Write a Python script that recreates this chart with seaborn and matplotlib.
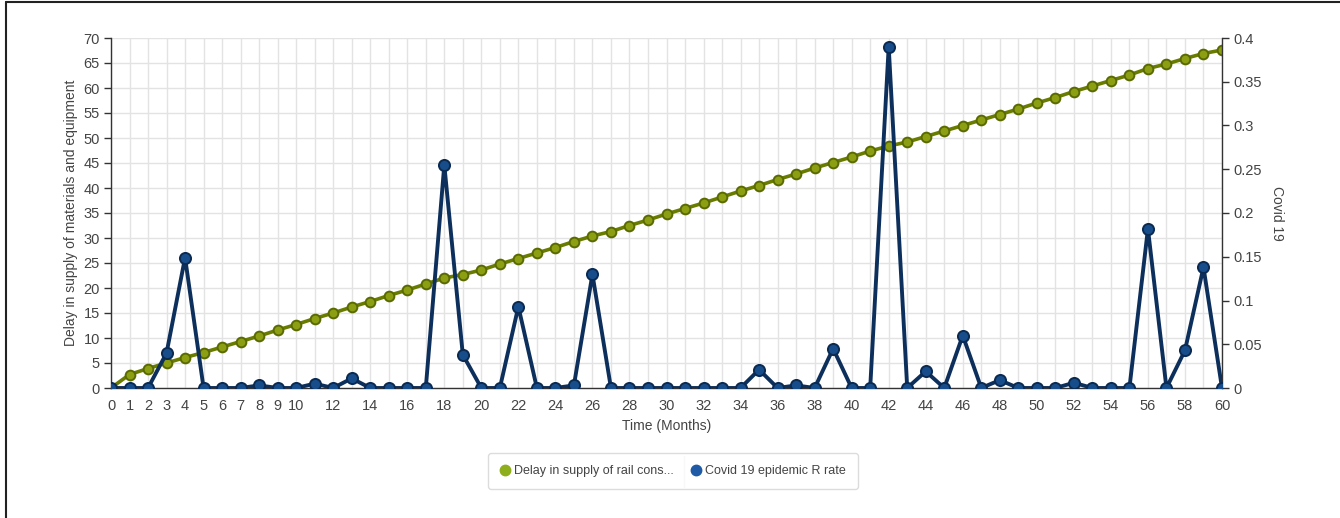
import numpy as np
import pandas as pd
import matplotlib
matplotlib.use("Agg")
import matplotlib.pyplot as plt
import seaborn as sns
from matplotlib.lines import Line2D

# ==========================================================
# Data
# ==========================================================
months = list(range(0, 61))

delay_supply = [
    0.0, 2.7, 3.9, 5.0, 6.1, 7.1, 8.2, 9.3, 10.4, 11.6,
    12.7, 13.9, 15.0, 16.2, 17.3, 18.5, 19.6, 20.8, 22.0, 22.7,
    23.6, 24.8, 25.9, 27.0, 28.1, 29.3, 30.4, 31.3, 32.5, 33.6,
    34.8, 35.9, 37.0, 38.2, 39.4, 40.5, 41.7, 42.8, 44.0, 45.1,
    46.2, 47.4, 48.4, 49.2, 50.3, 51.4, 52.5, 53.6, 54.7, 55.8,
    57.0, 58.1, 59.3, 60.4, 61.5, 62.6, 63.9, 64.8, 65.9, 66.9,
    67.6,
]

covid_r = [
    0.0, 0.0, 0.0, 0.040, 0.149, 0.0, 0.0, 0.0, 0.003, 0.0,
    0.0, 0.005, 0.0, 0.011, 0.0, 0.0, 0.0, 0.0, 0.255, 0.038,
    0.0, 0.0, 0.093, 0.0, 0.0, 0.003, 0.130, 0.0, 0.0, 0.0,
    0.0, 0.0, 0.0, 0.0, 0.0, 0.021, 0.0, 0.003, 0.0, 0.045,
    0.0, 0.0, 0.390, 0.0, 0.019, 0.0, 0.060, 0.0, 0.009, 0.0,
    0.0, 0.0, 0.006, 0.0, 0.0, 0.0, 0.182, 0.0, 0.043, 0.138,
    0.0,
]

legend_labels = ["Delay in supply of rail cons...", "Covid 19 epidemic R rate"]

df = pd.DataFrame({"month": months, "delay": delay_supply, "covid": covid_r})

# ==========================================================
# Style
# ==========================================================
sns.set_theme(style="white")
plt.rcParams["font.family"] = ["Liberation Sans", "DejaVu Sans"]

green_line = "#6a7c00"
green_face = "#8c9e12"
green_edge = "#5b6a00"
blue_line = "#0d2f5c"
blue_face = "#174d8a"
blue_edge = "#0b2a52"
text_col = "#444444"
spine_col = "#333333"
grid_col = "#e3e3e3"

fig = plt.figure(figsize=(13.4, 5.18), dpi=100)
ax1 = fig.add_axes([111 / 1340, 1 - 388 / 518, (1222 - 111) / 1340, 350 / 518])
ax2 = ax1.twinx()

# --- Green series (left axis) ---
sns.lineplot(data=df, x="month", y="delay", ax=ax1, color=green_line, linewidth=2.6,
             marker="o", markersize=7, markerfacecolor=green_face,
             markeredgecolor=green_edge, markeredgewidth=1.4, zorder=3)

# --- Blue series (right axis) ---
sns.lineplot(data=df, x="month", y="covid", ax=ax2, color=blue_line, linewidth=2.8,
             marker="o", markersize=8, markerfacecolor=blue_face,
             markeredgecolor=blue_edge, markeredgewidth=1.4, zorder=3)

# Axes limits and ticks
ax1.set_xlim(0, 60)
ax1.set_ylim(0, 70)
ax2.set_ylim(0, 0.4)
ax1.set_xticks(months)
ax1.set_xticklabels([str(m) if (m <= 10 or m % 2 == 0) else "" for m in months])
ax1.set_yticks(np.arange(0, 71, 5))
ax2.set_yticks(np.arange(0, 0.41, 0.05))
ax2.set_yticklabels(["0", "0.05", "0.1", "0.15", "0.2", "0.25", "0.3", "0.35", "0.4"])

ax1.grid(True, color=grid_col, linewidth=1.0)
ax1.set_axisbelow(True)
ax2.grid(False)

for ax in (ax1, ax2):
    ax.tick_params(axis="both", direction="out", length=5, width=1.0,
                   colors=spine_col, labelcolor=text_col, labelsize=10.5, pad=3)
    ax.spines["top"].set_visible(False)
    for side in ("left", "bottom", "right"):
        ax.spines[side].set_color(spine_col)
        ax.spines[side].set_linewidth(1.0)
ax1.spines["right"].set_visible(False)
ax2.spines["left"].set_visible(False)
ax2.spines["bottom"].set_visible(False)

ax1.set_xlabel("Time (Months)", fontsize=10, color=text_col, labelpad=4)
ax1.set_ylabel("Delay in supply of materials and equipment", fontsize=10,
               color=text_col, labelpad=4)
ax2.set_ylabel("Covid 19", fontsize=10, color=text_col, rotation=270, labelpad=16)

# ==========================================================
# Legend (boxed, below the plot)
# ==========================================================
handles = [
    Line2D([], [], linestyle="none", marker="o", markersize=7.5,
           markerfacecolor="#8fae1b", markeredgecolor="#8fae1b"),
    Line2D([], [], linestyle="none", marker="o", markersize=7.5,
           markerfacecolor="#1f5aa6", markeredgecolor="#1f5aa6"),
]
leg = fig.legend(handles, legend_labels, loc="center", bbox_to_anchor=(673 / 1340, 1 - 471 / 518),
                 ncol=2, frameon=True, fontsize=9, handletextpad=0.3,
                 columnspacing=1.4, borderpad=0.95, handlelength=0.8, fancybox=True)
leg.get_frame().set_edgecolor("#d4d4d4")
leg.get_frame().set_linewidth(1.0)
for t in leg.get_texts():
    t.set_color(text_col)
fig.add_artist(Line2D([684 / 1340, 684 / 1340], [1 - 456 / 518, 1 - 487 / 518],
                      color="#dddddd", linewidth=1.0))

# Outer frame lines (left and top only, as in the reference)
fig.add_artist(Line2D([6 / 1340, 6 / 1340], [0, 1 - 2 / 518], color="#222222", linewidth=1.5))
fig.add_artist(Line2D([6 / 1340, 1], [1 - 2 / 518, 1 - 2 / 518], color="#222222", linewidth=1.5))

fig.savefig("out.png", dpi=100)
